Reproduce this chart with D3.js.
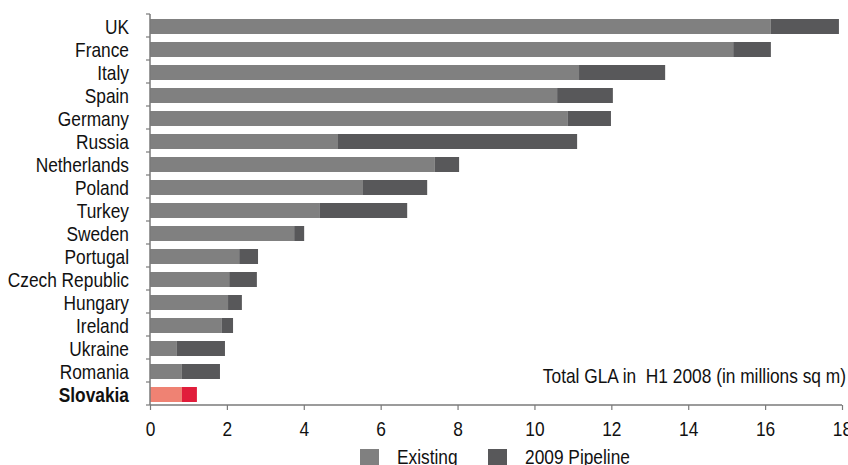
<!DOCTYPE html>
<html>
<head>
<meta charset="utf-8">
<script src="https://cdn.jsdelivr.net/npm/d3@7"></script>
<style>
  html, body { margin: 0; padding: 0; background: #fff; }
  svg { display: block; }
  text { font-family: "Liberation Sans", Arial, sans-serif; fill: #111; }
</style>
</head>
<body>
<svg id="chart" width="848" height="465"></svg>
<script>
const countries = ["UK","France","Italy","Spain","Germany","Russia","Netherlands","Poland","Turkey","Sweden","Portugal","Czech Republic","Hungary","Ireland","Ukraine","Romania","Slovakia"];
const existing = [16.15,15.17,11.16,10.59,10.87,4.89,7.41,5.54,4.42,3.75,2.32,2.06,2.03,1.87,0.70,0.83,0.83];
const pipeline = [1.77,0.98,2.24,1.45,1.12,6.22,0.63,1.67,2.27,0.26,0.49,0.72,0.36,0.29,1.25,0.99,0.39];
const xTicks = [0,2,4,6,8,10,12,14,16,18];
const seriesNames = ["Existing","2009 Pipeline"];
const highlight = "Slovakia";
const annotation = "Total GLA in  H1 2008 (in millions sq m)";

const colors = { existing: "#808080", pipeline: "#58585a", hlExisting: "#ef8273", hlPipeline: "#e11d3b" };
const fontSize = 20.5;
const sx = 0.845; // narrow font emulation

const svg = d3.select("#chart");
const x = d3.scaleLinear().domain([0, 18]).range([150, 842]);
const y = d3.scaleBand().domain(countries).range([14, 405]).padding(0);
const barOffset = 5, barH = 15;

const data = countries.map((c, i) => ({ c, e: existing[i], p: pipeline[i] }));

function narrowText(sel, tx, ty) {
  return sel.attr("transform", (d, i) => `translate(${typeof tx === "function" ? tx(d, i) : tx},${typeof ty === "function" ? ty(d, i) : ty}) scale(${sx},1)`)
    .attr("font-size", fontSize);
}

// bars
const g = svg.append("g");
g.selectAll("rect.ex").data(data).join("rect")
  .attr("class", "ex")
  .attr("x", x(0))
  .attr("y", d => y(d.c) + barOffset)
  .attr("width", d => x(d.e) - x(0))
  .attr("height", barH)
  .attr("fill", d => d.c === highlight ? colors.hlExisting : colors.existing);
g.selectAll("rect.pl").data(data).join("rect")
  .attr("class", "pl")
  .attr("x", d => x(d.e))
  .attr("y", d => y(d.c) + barOffset)
  .attr("width", d => x(d.e + d.p) - x(d.e))
  .attr("height", barH)
  .attr("fill", d => d.c === highlight ? colors.hlPipeline : colors.pipeline);

// y axis line and ticks at band boundaries
const axisColor = "#7a7a7a";
svg.append("line").attr("x1", x(0)).attr("x2", x(0)).attr("y1", 14).attr("y2", 405)
  .attr("stroke", axisColor).attr("stroke-width", 1.5);
const bounds = countries.map(c => y(c)).concat([405]);
svg.selectAll("line.yt").data(bounds).join("line").attr("class", "yt")
  .attr("x1", x(0) - 4).attr("x2", x(0)).attr("y1", d => d).attr("y2", d => d)
  .attr("stroke", axisColor).attr("stroke-width", 1.2);

// y labels
narrowText(svg.selectAll("text.yl").data(data).join("text").attr("class", "yl"),
    129, d => y(d.c) + barOffset + barH)
  .attr("text-anchor", "end")
  .attr("font-weight", d => d.c === highlight ? "bold" : "normal")
  .text(d => d.c);

// x axis
const xAxis = d3.axisBottom(x).tickValues(xTicks).tickSize(5).tickPadding(6).tickFormat(d3.format("d"));
const xg = svg.append("g").attr("transform", "translate(0,405)").call(xAxis);
xg.select(".domain").attr("stroke", axisColor).attr("stroke-width", 1.5).attr("d", `M${x(0)},0H${x(18)}`);
xg.selectAll(".tick line").attr("stroke", axisColor).attr("stroke-width", 1.2);
xg.selectAll(".tick text").attr("font-size", fontSize).attr("fill", "#111")
  .attr("font-family", "\"Liberation Sans\", Arial, sans-serif")
  .attr("dy", null).attr("y", 31.5)
  .attr("transform", `scale(${sx},1)`);

// annotation
narrowText(svg.append("text"), 846, 383).attr("text-anchor", "end")
  .style("white-space", "pre").text(annotation);

// legend
const legendColors = [colors.existing, colors.pipeline];
const legendX = [360, 488];
const lg = svg.selectAll("g.lg").data(seriesNames).join("g").attr("class", "lg")
  .attr("transform", (d, i) => `translate(${legendX[i]},449)`);
lg.append("rect").attr("width", 19).attr("height", 19).attr("fill", (d, i) => legendColors[i]);
narrowText(lg.append("text"), 37, 14.5).text(d => d);
</script>
</body>
</html>
